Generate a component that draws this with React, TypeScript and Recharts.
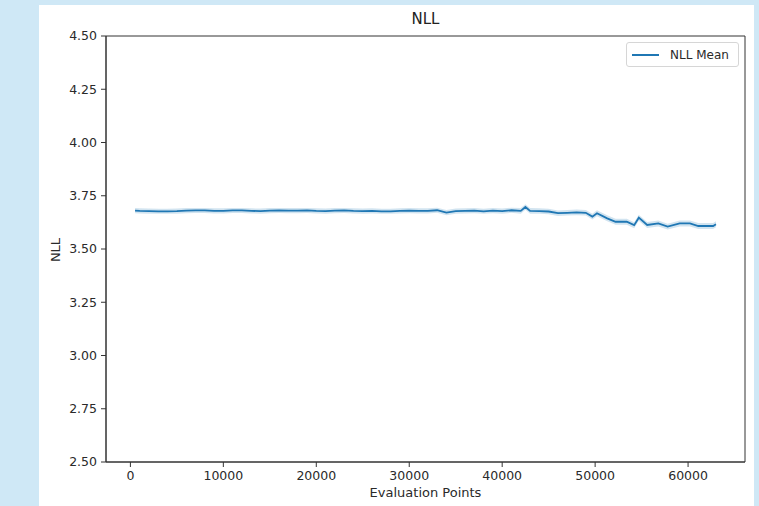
import React from 'react';
import { ComposedChart, Line, Area, XAxis, YAxis, ReferenceArea } from 'recharts';

const evalPoints = [
  500, 1000, 2000, 3000, 4000, 5000, 6000, 7000, 8000, 9000,
  10000, 11000, 12000, 13000, 14000, 15000, 16000, 17000, 18000, 19000,
  20000, 21000, 22000, 23000, 24000, 25000, 26000, 27000, 28000, 29000,
  30000, 31000, 32000, 33000, 34000, 35000, 36000, 37000, 38000, 39000,
  40000, 41000, 42000, 42500, 43000, 44000, 45000, 46000, 47000, 48000,
  49000, 49700, 50200, 51300, 52200, 53400, 54200, 54700, 55600, 56800,
  57800, 59100, 60200, 61100, 62700, 63000,
];

const nllMean = [
  3.680, 3.679, 3.678, 3.677, 3.677, 3.678, 3.680, 3.681, 3.681, 3.679,
  3.679, 3.681, 3.681, 3.679, 3.678, 3.680, 3.681, 3.680, 3.680, 3.681,
  3.679, 3.678, 3.680, 3.681, 3.679, 3.678, 3.679, 3.677, 3.677, 3.679,
  3.680, 3.679, 3.679, 3.682, 3.671, 3.678, 3.679, 3.680, 3.677, 3.680,
  3.678, 3.682, 3.679, 3.697, 3.679, 3.678, 3.676, 3.668, 3.670, 3.672,
  3.670, 3.652, 3.668, 3.644, 3.628, 3.628, 3.612, 3.647, 3.613, 3.620,
  3.605, 3.620, 3.620, 3.608, 3.608, 3.616,
];

const nllStd = [
  0.012, 0.012, 0.012, 0.012, 0.012, 0.012, 0.012, 0.012, 0.012, 0.012,
  0.012, 0.012, 0.012, 0.012, 0.012, 0.012, 0.012, 0.012, 0.012, 0.012,
  0.012, 0.012, 0.012, 0.012, 0.012, 0.012, 0.012, 0.012, 0.012, 0.012,
  0.012, 0.012, 0.012, 0.012, 0.012, 0.012, 0.012, 0.012, 0.012, 0.012,
  0.012, 0.012, 0.013, 0.013, 0.013, 0.013, 0.013, 0.013, 0.013, 0.013,
  0.013, 0.014, 0.014, 0.014, 0.014, 0.014, 0.014, 0.014, 0.014, 0.014,
  0.014, 0.014, 0.014, 0.014, 0.014, 0.014,
];

const xTicks = [0, 10000, 20000, 30000, 40000, 50000, 60000];
const yTicks = [2.5, 2.75, 3.0, 3.25, 3.5, 3.75, 4.0, 4.25, 4.5];

const data = evalPoints.map((x, i) => ({
  x,
  mean: nllMean[i],
  band: [nllMean[i] - nllStd[i], nllMean[i] + nllStd[i]],
}));

const FONT = '"DejaVu Sans", sans-serif';
const AX = '#333';

export default function App() {
  return (
    <div style={{ position: 'absolute', left: 0, top: 0, width: 759, height: 506, background: '#cfe8f6', overflow: 'hidden', fontFamily: FONT }}>
      <div style={{ position: 'absolute', left: 39, top: 5, width: 715, height: 501, background: '#ffffff' }} />
      <div style={{ position: 'absolute', left: 0, top: 0 }}>
        <ComposedChart width={759} height={506} data={data} margin={{ top: 36, right: 14, bottom: 14, left: 56 }}>
          <XAxis
            dataKey="x"
            type="number"
            domain={[-2625, 66125]}
            ticks={xTicks}
            allowDataOverflow
            height={30}
            tickSize={5}
            tickMargin={4}
            stroke={AX}
            tick={{ fill: '#2a2a2a', fontSize: 12.5, fontFamily: FONT }}
          />
          <YAxis
            type="number"
            domain={[2.5, 4.5]}
            ticks={yTicks}
            allowDataOverflow
            width={50}
            tickSize={5}
            tickMargin={4}
            stroke={AX}
            tickFormatter={(v: number) => v.toFixed(2)}
            tick={{ fill: '#2a2a2a', fontSize: 12.5, fontFamily: FONT }}
          />
          <ReferenceArea x1={-2625} x2={66125} y1={2.5} y2={4.5} fill="none" stroke={AX} strokeWidth={1} ifOverflow="visible" />
          <Area type="linear" dataKey="band" stroke="none" fill="#1f77b4" fillOpacity={0.2} isAnimationActive={false} />
          <Line type="linear" dataKey="mean" stroke="#1f77b4" strokeWidth={1.8} dot={false} isAnimationActive={false} />
        </ComposedChart>
      </div>
      <div style={{ position: 'absolute', left: 106, width: 639, top: 10, textAlign: 'center', fontSize: 15, color: '#222' }}>NLL</div>
      <div style={{ position: 'absolute', left: 106, width: 639, top: 485, textAlign: 'center', fontSize: 13, color: '#2a2a2a' }}>Evaluation Points</div>
      <div style={{ position: 'absolute', left: 55, top: 250, transform: 'translate(-50%, -50%) rotate(-90deg)', fontSize: 13, color: '#2a2a2a', whiteSpace: 'nowrap' }}>NLL</div>
      <div style={{ position: 'absolute', left: 626, top: 42, width: 111, height: 23, border: '1px solid #d6d6d6', borderRadius: 3, background: '#fff', display: 'flex', alignItems: 'center' }}>
        <div style={{ marginLeft: 5, width: 27, height: 2, background: '#1f77b4' }} />
        <div style={{ marginLeft: 11, fontSize: 12, color: '#2a2a2a' }}>NLL Mean</div>
      </div>
    </div>
  );
}
